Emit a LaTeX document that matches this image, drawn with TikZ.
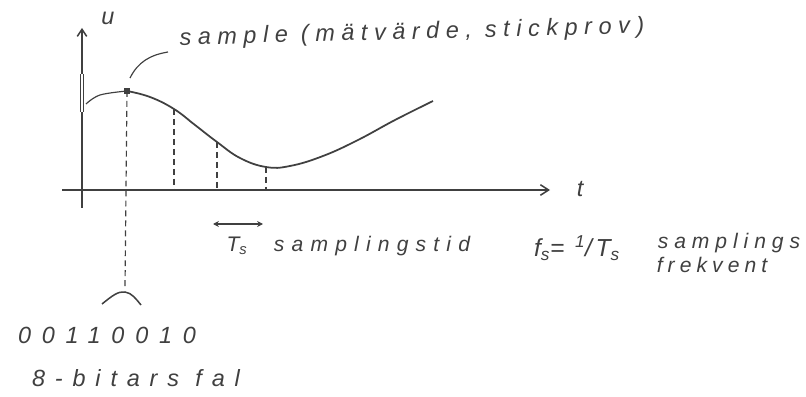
\documentclass[tikz,border=0pt]{standalone}
\usepackage{fontspec}
\usetikzlibrary{arrows.meta,calc}
\newfontfamily\hand{Liberation Sans}[LetterSpace=28]
\definecolor{ink}{rgb}{0.25,0.25,0.25}
\begin{document}
\begin{tikzpicture}[x=0.03cm,y=-0.03cm,
  axis/.style={draw=ink,line width=1.3pt},
  curve/.style={draw=ink,line width=1.5pt},
  guide/.style={draw=ink,line width=1pt,dash pattern=on 5pt off 3.5pt},
  lbl/.style={text=ink,inner sep=0pt,font=\hand\itshape\fontsize{20}{24}\selectfont},
  slbl/.style={text=ink,inner sep=0pt,font=\hand\itshape\fontsize{18}{22}\selectfont}]
\useasboundingbox (0,0) rectangle (806,397);
% axes
\coordinate (ybot) at (82,208);
\coordinate (ytop) at (82,28);
\coordinate (xleft) at (62,190);
\coordinate (xright) at (550,190);
\draw[axis,-{Straight Barb[length=6pt,width=8pt]}] (ybot) -- (ytop);
\draw[draw=ink,line width=0.9pt,double=white,double distance=1.1pt] (82,74) -- (82,112);
\draw[draw=ink,line width=2.2pt] (82,156) -- (82,187);
\draw[axis,-{Straight Barb[length=7pt,width=9pt]}] (xleft) -- (xright);
\node[lbl] (u) at (108,18) {u};
\node[lbl] (t) at (580,189) {t};
% signal curve
\coordinate (s1) at (127,91);
\coordinate (s2) at (174,109);
\coordinate (s3) at (217,142);
\coordinate (s4) at (266,167);
\draw[draw=ink,line width=1pt] plot[smooth,tension=0.6] coordinates {(86,104) (100,95) (127,91)};
\draw[curve] plot[smooth,tension=0.7] coordinates {(127,91) (150,97) (174,109) (195,125) (217,142) (240,158) (266,167) (290,166) (323,156) (358,140) (395,120) (433,101)};
\fill[ink] ($(s1)+(-2.6,-2.6)$) rectangle ($(s1)+(2.6,2.6)$);
% sample guides
\coordinate (h) at (125,288);
\coordinate (b2) at (174,190);
\coordinate (b3) at (217,190);
\coordinate (b4) at (266,190);
\draw[guide] (s1) -- (h);
\draw[guide] (s2) -- (b2);
\draw[guide] (s3) -- (b3);
\draw[guide] (s4) -- (b4);
\coordinate (hl) at (102,304);
\coordinate (hr) at (141,305);
\draw[draw=ink,line width=1.3pt] (hl) .. controls (112,296) and (118,291) .. (125,292) .. controls (132,293) and (136,299) .. (hr);
% sample label
\node[lbl,rotate=1.5] (sample) at (412,33) {sample (mätvärde, stickprov)};
\coordinate (lead0) at (130,78);
\coordinate (lead1) at (168,52);
\draw[draw=ink,line width=1pt] (lead0) .. controls (138,62) and (150,55) .. (lead1);
% sampling time
\coordinate (ta) at (213,224);
\coordinate (tb) at (263,224);
\draw[draw=ink,line width=1pt,{Stealth[length=5pt,width=5pt]}-{Stealth[length=5pt,width=5pt]}] (ta) -- (tb);
\node[slbl] (Ts) at (237,246) {T\textsubscript{s}};
\node[slbl,font=\hand\itshape\fontsize{18}{22}\selectfont\addfontfeatures{LetterSpace=34}] (stid) at (372,246) {samplingstid};
\node[lbl,font=\hand\itshape\fontsize{21}{24}\selectfont\addfontfeatures{LetterSpace=15}] (fs) at (577,248) {f\textsubscript{s}= \textsuperscript{1}/T\textsubscript{s}};
\node[slbl] (sf1) at (729,243) {samplings};
\node[slbl,font=\hand\itshape\fontsize{18}{22}\selectfont\addfontfeatures{LetterSpace=24}] (sf2) at (712,265) {frekvent};
% binary
\node[lbl,font=\hand\itshape\fontsize{20}{24}\selectfont\addfontfeatures{LetterSpace=46}] (bin) at (107,335) {00110010};
\node[lbl,font=\hand\itshape\fontsize{20}{24}\selectfont\addfontfeatures{LetterSpace=42}] (bits) at (136,378) {8-bitars fal};
\end{tikzpicture}
\end{document}
